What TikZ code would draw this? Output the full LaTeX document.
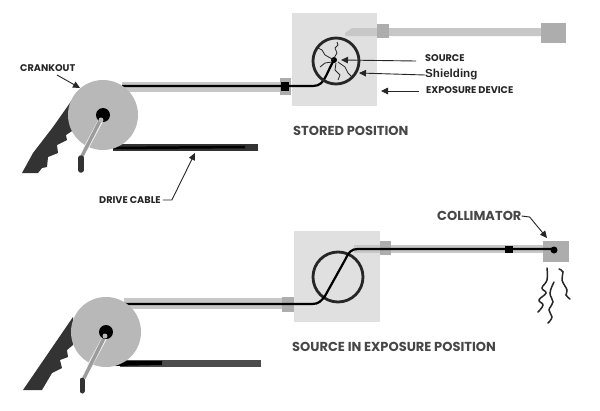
\documentclass[tikz,border=0pt]{standalone}
\usepackage{fontspec}
\setmainfont{Poppins}
\newfontfamily\helv{Liberation Sans}
\usetikzlibrary{arrows.meta}
\definecolor{housing}{gray}{0.88}
\definecolor{tube}{gray}{0.78}
\definecolor{wheel}{gray}{0.72}
\definecolor{grip}{gray}{0.2}
\definecolor{cablegrey}{gray}{0.3}
\definecolor{ink}{gray}{0.15}
\definecolor{fitting}{gray}{0.68}
\tikzset{
  x=1pt,y=-1pt,
  caption/.style={font=\bfseries\fontsize{13}{15}\selectfont,text=ink!85!white,inner sep=0pt,anchor=west},
  tag/.style={font=\bfseries\fontsize{9.7}{11}\selectfont,text=ink,inner sep=0pt,anchor=west},
  leader/.style={draw=ink,line width=0.9pt,-{Triangle[length=7pt,width=6.5pt]}},
  cablecore/.style={draw=black,line width=2.2pt},
  crackline/.style={draw=ink,line width=0.8pt,line join=round},
  wave/.style={draw=ink,line width=1.5pt,line cap=round},
  ring/.style={draw=ink,line width=2.8pt,fill=none},
  armhalo/.style={draw=white!80!wheel,line width=5pt},
  armcore/.style={draw=fitting!90!black,line width=3.4pt}
}
\begin{document}
\begin{tikzpicture}
\useasboundingbox[fill=white] (0,0) rectangle (600,410);

% ---------- stored position ----------
\fill[housing] (292,13) rectangle (377,106);
% guide tube beyond the housing
\fill[tube] (352,28) -- (541,28) -- (541,36) -- (345,36) -- (345,33) -- cycle;
\fill[fitting] (377,24) rectangle (389,38);
\fill[fitting] (541,23) rectangle (566,43);
% left cable and crank
\fill[tube] (122,82) rectangle (282,92);
\fill[fitting] (280,78) rectangle (291,95);
\draw[cablecore] (122,86) -- (313,86) .. controls (320,86) and (323,82) .. (326,76) .. controls (329,70) and (331,65) .. (334,60);
\fill[black] (281,82) rectangle (289,91);
% shielding drum with radiation cracks
\draw[ring] (336,61) circle (23);
\fill[black] (334,60) circle (3);
\draw[crackline] (334,58) -- (337,53) -- (335,48) -- (338,45) -- (337,42);
\draw[crackline] (334,60) -- (325,55) -- (322,50) -- (318,48);
\draw[crackline] (332,62) -- (325,63) -- (320,67);
\draw[crackline] (336,63) -- (335,70) -- (340,75) -- (338,80);
\draw[crackline] (338,62) -- (345,67) -- (348,73) -- (352,77);

\fill[grip] (72,100) -- (53,127) -- (33,153) -- (22,173) -- (38,173) -- (42,168) -- (47,167) -- (48,157) -- (58,153) -- (57,145) -- (67,140) -- (66,135) -- (72,131) -- cycle;
\fill[grip] (113,144) -- (258,144) -- (258,151) -- (113,151) -- cycle;
\draw[black,line width=2.5pt] (113,148) -- (245,147);
\fill[wheel] (103,115) circle (35);
\draw[armhalo] (102,118) -- (85,150);
\draw[armcore] (103,115) -- (82,156);
\fill[black] (103,115) circle (7);
\fill[wheel] (101,120) circle (2.5);
\draw[grip,line width=5.5pt,line cap=round] (81,158) -- (81,170);

% ---------- source in exposure position ----------
\fill[housing] (294,231) rectangle (380,322);
\fill[tube] (354,245) rectangle (543,253);
\fill[tube] (124,298) rectangle (294,309);
\fill[fitting] (380,241) rectangle (391,255);
\fill[fitting] (282,297) rectangle (294,312);
\fill[fitting] (543,241) rectangle (569,262);
\draw[ring] (338,277) circle (25);
\draw[cablecore] (124,304) -- (312,304) .. controls (319,304) and (321,301) .. (325,296) -- (345,260) .. controls (349,252) and (351,249) .. (358,249) -- (553,249);
\fill[black] (505,246) rectangle (513,253);
\fill[black] (554,250) circle (3.5);
% emitted radiation
\draw[wave] plot[smooth,tension=0.7] coordinates {(547,268) (547,280) (542,288) (546,293) (539,300) (543,305) (538,312)};
\draw[wave] plot[smooth,tension=0.7] coordinates {(554,282) (550,293) (553,302) (549,310) (552,317) (548,323)};
\draw[wave] plot[smooth,tension=0.7] coordinates {(559,269) (563,272) (562,280) (567,290) (566,295) (570,299)};

\fill[grip] (73,317) -- (23,390) -- (42,390) -- (52,373) -- (62,368) -- (60,360) -- (68,357) -- (67,350) -- (73,345) -- cycle;
\fill[cablegrey] (120,360) rectangle (261,367);
\fill[black] (120,361) -- (162,361) -- (162,365) -- (115,366) -- cycle;
\fill[wheel] (106,332) circle (35);
\draw[armhalo] (105,337) -- (89,367);
\draw[armcore] (106,334) -- (84,378);
\fill[black] (106,332) circle (7);
\fill[wheel] (105,336) circle (2.5);
\draw[grip,line width=5pt,line cap=round] (82,380) -- (82,391);

% ---------- labels and leaders ----------
\node[tag] (crank) at (20,68) {CRANKOUT};
\coordinate (cranktip) at (80,88);
\draw[leader] (57,75) -- (cranktip);

\node[tag] (drive) at (99,200) {DRIVE CABLE};
\coordinate (drivetip) at (195,153);
\draw[leader] (drive.east) ++(2,0) -- ++(9,0) -- (drivetip);

\node[tag] (src) at (425,58) {SOURCE};
\coordinate (srctip) at (341,60);
\draw[leader] (416,61) -- (srctip);

\node[font={\helv\bfseries\fontsize{11.6}{13}\selectfont},text=ink,inner sep=0pt,anchor=west] (shield) at (425,75) {Shielding};
\coordinate (shieldtip) at (359,73);
\draw[leader] (shield.west) -- (shieldtip);

\node[tag] (expo) at (426,90) {EXPOSURE DEVICE};
\coordinate (expotip) at (381,91);
\draw[leader] (419,91) -- (expotip);

\node[caption] (stored) at (293,131) {STORED POSITION};
\node[caption] (exposed) at (292,347) {SOURCE IN EXPOSURE POSITION};

\node[caption] (coll) at (437,216) {COLLIMATOR};
\coordinate (colltip) at (547,238);
\draw[leader] (coll.east) -- ++(8,1) -- (colltip);
\end{tikzpicture}
\end{document}
